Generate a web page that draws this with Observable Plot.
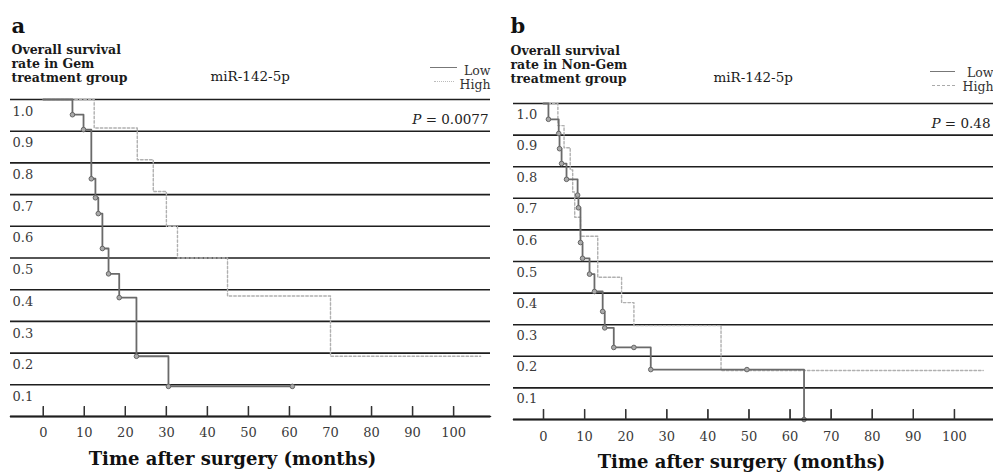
<!DOCTYPE html>
<html><head><meta charset="utf-8">
<script src="https://cdn.jsdelivr.net/npm/d3@7"></script>
<script src="https://cdn.jsdelivr.net/npm/@observablehq/plot@0.6"></script>
<style>
body{margin:0;background:#fff;}
#wrap{position:relative;width:993px;height:475px;display:flex;background:#fff;}
.sw{position:absolute;height:0;}
</style></head><body>
<div id="wrap"></div>
<script>
// ---------- data ----------
const monthTicks = [0, 10, 20, 30, 40, 50, 60, 70, 80, 90, 100];
const survivalTicks = [0, 0.1, 0.2, 0.3, 0.4, 0.5, 0.6, 0.7, 0.8, 0.9, 1.0];
const panelLetters = ["a", "b"];
const groupTitles = ["Overall survival\nrate in Gem\ntreatment group", "Overall survival\nrate in Non-Gem\ntreatment group"];
const markerName = "miR-142-5p";
const seriesNames = ["Low", "High"];
const pValues = ["0.0077", "0.48"];
const xTitle = "Time after surgery (months)";

// panel a (Gem treatment group)
const aLowTime  = [0, 7.1, 9.8, 11.7, 12.7, 13.4, 14.4, 15.9, 18.5, 22.7, 30.5, 60.7];
const aLowSurv  = [1.0, 0.952, 0.905, 0.75, 0.69, 0.64, 0.53, 0.45, 0.375, 0.19, 0.095, 0.095];
const aHighTime = [0, 12.4, 22.9, 26.8, 30.0, 32.7, 44.9, 70.0, 106.6];
const aHighSurv = [1.0, 0.91, 0.81, 0.71, 0.60, 0.50, 0.38, 0.19, 0.19];

// panel b (Non-Gem treatment group)
const bLowTime  = [0, 1.2, 3.7, 3.9, 4.4, 5.6, 8.3, 8.5, 9.0, 9.5, 11.2, 12.4, 14.4, 14.9, 17.1, 22.0, 26.1, 49.5, 63.4];
const bLowSurv  = [1.0, 0.95, 0.905, 0.857, 0.81, 0.76, 0.71, 0.67, 0.56, 0.51, 0.46, 0.405, 0.342, 0.29, 0.228, 0.228, 0.158, 0.158, 0.0];
const bHighTime = [0, 3.5, 5.0, 6.5, 7.1, 7.6, 9.0, 13.2, 19.0, 22.0, 43.2, 107.0];
const bHighSurv = [1.0, 0.93, 0.86, 0.79, 0.72, 0.64, 0.58, 0.45, 0.37, 0.297, 0.155, 0.155];

const toRows = (t, s) => t.map((v, i) => ({t: v, s: s[i]}));

// ---------- layout ----------
const serif = "DejaVu Serif, serif";
const H = 475;
const cfgs = [
  {W: 500, ml: 10, mr: 10, mt: 99, mb: 59, xDomain: [-8, 109], ylabDx: 2, ylabDy: 12, xlabDy: 16,
   letter: [11, 32], title: [11, 52], marker: [210, 80], low: [490, 74], high: [490, 88], p: [488, 123], xt: [232, 464]},
  {W: 493, ml: 13, mr: 0, mt: 103, mb: 56, xDomain: [-7.3, 109.5], ylabDx: 3, ylabDy: 11, xlabDy: 17,
   letter: [10, 32], title: [10, 53], marker: [213, 81], low: [493, 76], high: [493, 90], p: [490, 127], xt: [241, 467]}
];

function panel(idx, low, high) {
  const c = cfgs[idx];
  const [x0, x1] = c.xDomain;
  const tickLen = 10 / (H - c.mt - c.mb);
  const txt = (s, pos, fs, o = {}) => Plot.text([s], {
    frameAnchor: "top-left", dx: pos[0] - c.ml, dy: pos[1] - 0.71 * fs - c.mt,
    lineAnchor: "top", fontSize: fs, text: d => d, fontFamily: serif, fill: "#222", ...o
  });
  const baseline = [{t: x0, s: 0}, {t: x1, s: 0}];
  const svg = Plot.plot({
    width: c.W, height: H,
    marginLeft: c.ml, marginRight: c.mr, marginTop: c.mt, marginBottom: c.mb,
    x: {domain: c.xDomain, axis: null},
    y: {domain: [0, 1], axis: null},
    style: {fontFamily: serif},
    marks: [
      Plot.ruleY(survivalTicks, {y: d => d, x1: x0, x2: x1, stroke: "#1e1e1e", strokeWidth: 1.6}),
      Plot.text(survivalTicks.filter(v => v > 0), {x: x0, y: d => d, text: d => d.toFixed(1), dx: c.ylabDx, dy: c.ylabDy,
        textAnchor: "start", fontSize: 13, fill: "#3a3a3a", fontFamily: serif}),
      Plot.text(monthTicks, {x: d => d, y: 0, dy: c.xlabDy, text: d => String(d), fontSize: 13,
        fill: "#3a3a3a", fontFamily: serif}),
      Plot.line(high, {x: "t", y: "s", curve: "step-after", stroke: "#b0b0b0", strokeWidth: 1.4, strokeDasharray: "2.5,2"}),
      Plot.line(low, {x: "t", y: "s", curve: "step-after", stroke: "#6a6a6a", strokeWidth: 1.8}),
      Plot.dot(low.slice(1), {x: "t", y: "s", r: 2.3, stroke: "#666", fill: "#aaa", strokeWidth: 1}),
      txt(panelLetters[idx], c.letter, 21, {fontWeight: "bold", fill: "#111"}),
      txt(groupTitles[idx], c.title, 12.5, {fontWeight: "bold", lineHeight: 14 / 12.5, fill: "#1a1a1a"}),
      txt(markerName, c.marker, 13.5, {fill: "#1a1a1a"}),
      txt(seriesNames[0], c.low, 12.5, {textAnchor: "end", fill: "#333"}),
      txt(seriesNames[1], c.high, 12.5, {textAnchor: "end", fill: "#333"}),
      txt("P = " + pValues[idx], c.p, 13.5, {textAnchor: "end", fill: "#222"}),
      txt(xTitle, c.xt, 18, {textAnchor: "middle", fontWeight: "bold", fill: "#111"}),
      // baseline and month ticks as paths, drawn last
      Plot.line(baseline, {x: "t", y: "s", stroke: "#1e1e1e", strokeWidth: 1.6}),
      Plot.ruleY([0], {y: d => d, x1: x0, x2: x1, stroke: "#1e1e1e", strokeWidth: 1.6}),
      Plot.link(monthTicks, {x1: d => d, x2: d => d, y1: 0, y2: tickLen, stroke: "#333", strokeWidth: 1.3}),
      Plot.ruleX(monthTicks, {x: d => d, y1: 0, y2: tickLen, stroke: "#333", strokeWidth: 1.3})
    ]
  });
  d3.select(svg).selectAll("text").each(function() {
    if (this.textContent.startsWith("P = ")) {
      const t = d3.select(this);
      const rest = this.textContent.slice(1);
      t.text("");
      t.append("tspan").attr("font-style", "italic").text("P");
      t.append("tspan").text(rest);
    }
  });
  return svg;
}

const wrap = document.getElementById("wrap");
wrap.appendChild(panel(0, toRows(aLowTime, aLowSurv), toRows(aHighTime, aHighSurv)));
wrap.appendChild(panel(1, toRows(bLowTime, bLowSurv), toRows(bHighTime, bHighSurv)));

// legend swatches
const swatches = [
  {left: 430, top: 67, width: 27, style: "1.6px solid #777"},
  {left: 434, top: 81, width: 20, style: "1.3px dotted #bbb"},
  {left: 930, top: 71, width: 25, style: "1.6px solid #777"},
  {left: 932, top: 85, width: 23, style: "1.3px dashed #aaa"}
];
for (const s of swatches) {
  const d = document.createElement("div");
  d.className = "sw";
  d.style.left = s.left + "px"; d.style.top = s.top + "px"; d.style.width = s.width + "px";
  d.style.borderTop = s.style;
  wrap.appendChild(d);
}
</script>
</body></html>
